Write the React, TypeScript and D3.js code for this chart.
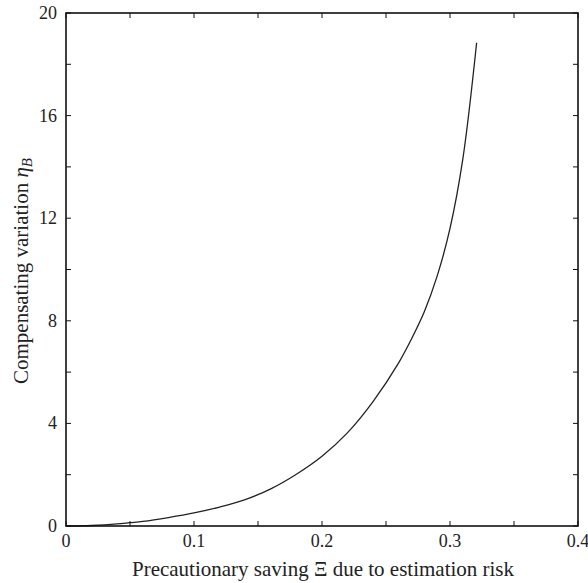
import React from 'react';
import * as d3 from 'd3';

// precautionary saving (x) and compensating variation (y)
const savingValues = [0, 0.02, 0.04, 0.05, 0.06, 0.08, 0.1, 0.12, 0.14, 0.16, 0.18, 0.2, 0.22, 0.24, 0.26, 0.27, 0.28, 0.29, 0.3, 0.31, 0.3208];
const variationValues = [0, 0.02, 0.08, 0.13, 0.18, 0.33, 0.51, 0.74, 1.03, 1.45, 2.02, 2.72, 3.64, 4.86, 6.37, 7.3, 8.36, 9.75, 11.6, 14.3, 18.84];

const xTicks = [0, 0.05, 0.1, 0.15, 0.2, 0.25, 0.3, 0.35, 0.4];
const xTickLabels = ['0', '', '0.1', '', '0.2', '', '0.3', '', '0.4'];
const yTicks = [0, 2, 4, 6, 8, 10, 12, 14, 16, 18, 20];
const yTickLabels = ['0', '', '4', '', '8', '', '12', '', '16', '', '20'];

const width = 588;
const height = 583;
const margin = { top: 13, right: 10, bottom: 57, left: 66 };
const font = '"Liberation Serif", "Times New Roman", serif';

export default function App() {
  const x = d3.scaleLinear().domain([0, 0.4]).range([margin.left, width - margin.right]);
  const y = d3.scaleLinear().domain([0, 20]).range([height - margin.bottom, margin.top]);

  const points = savingValues.map((s, i) => [s, variationValues[i]] as [number, number]);
  const line = d3.line<[number, number]>()
    .x(d => x(d[0]))
    .y(d => y(d[1]))
    .curve(d3.curveCatmullRom.alpha(0.5));

  const x0 = x(0), x1 = x(0.4), y0 = y(0), y1 = y(20);
  const tickLen = 5;

  return (
    <svg width={width} height={height} style={{ position: 'absolute', left: 0, top: 0, background: '#fff' }}>
      <path d={line(points) || ''} fill="none" stroke="#222" strokeWidth={1.3} />

      {/* ticks on all four sides, pointing in */}
      {xTicks.map((t, i) => (
        <g key={'xt' + i}>
          <line x1={x(t)} x2={x(t)} y1={y0} y2={y0 - tickLen} stroke="#111" strokeWidth={1} />
          <line x1={x(t)} x2={x(t)} y1={y1} y2={y1 + tickLen} stroke="#111" strokeWidth={1} />
          {xTickLabels[i] && (
            <text x={x(t)} y={y0 + 21} textAnchor="middle" fontFamily={font} fontSize={18} fill="#222">{xTickLabels[i]}</text>
          )}
        </g>
      ))}
      {yTicks.map((t, i) => (
        <g key={'yt' + i}>
          <line x1={x0} x2={x0 + tickLen} y1={y(t)} y2={y(t)} stroke="#111" strokeWidth={1} />
          <line x1={x1} x2={x1 - tickLen} y1={y(t)} y2={y(t)} stroke="#111" strokeWidth={1} />
          {yTickLabels[i] && (
            <text x={x0 - 9} y={y(t) + 6} textAnchor="end" fontFamily={font} fontSize={18} fill="#222">{yTickLabels[i]}</text>
          )}
        </g>
      ))}

      <rect x={x0} y={y1} width={x1 - x0} height={y0 - y1} fill="none" stroke="#111" strokeWidth={1.6} />

      <text x={323} y={576} textAnchor="middle" fontFamily={font} fontSize={21} fill="#222">
        Precautionary saving Ξ due to estimation risk
      </text>
      <text transform={`translate(28, 271) rotate(-90)`} textAnchor="middle" fontFamily={font} fontSize={21} fill="#222">
        Compensating variation <tspan fontStyle="italic">η</tspan><tspan fontStyle="italic" fontSize={15} dy={4}>B</tspan>
      </text>
    </svg>
  );
}
